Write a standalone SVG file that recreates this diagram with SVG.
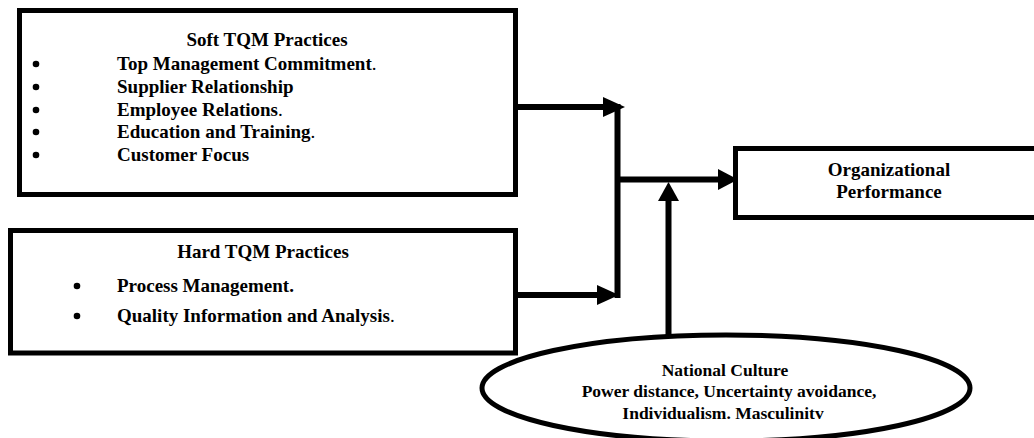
<svg xmlns="http://www.w3.org/2000/svg" width="1034" height="438" viewBox="0 0 1034 438">
<style>
.box{fill:#fff;stroke:#000;stroke-width:5}
.t{font-family:"Liberation Serif","Times New Roman",serif;font-weight:bold;font-size:19px;fill:#000}
.s{font-size:17.5px}
.n{font-weight:normal}
.ln{stroke:#000;stroke-width:6;fill:none}
.ah{fill:#000}
</style>
<rect width="1034" height="438" fill="#fff"/>
<g id="soft">
<rect class="box" x="19.5" y="10.5" width="496" height="184"/>
<text class="t" x="267" y="46" text-anchor="middle">Soft TQM Practices</text>
<circle cx="36" cy="64" r="3.3"/>
<circle cx="36" cy="87" r="3.3"/>
<circle cx="36" cy="110" r="3.3"/>
<circle cx="36" cy="132" r="3.3"/>
<circle cx="36" cy="155" r="3.3"/>
<text class="t" x="117" y="70">Top Management Commitment<tspan class="n">.</tspan></text>
<text class="t" x="117" y="93">Supplier Relationship</text>
<text class="t" x="117" y="116">Employee Relations<tspan class="n">.</tspan></text>
<text class="t" x="117" y="138">Education and Training<tspan class="n">.</tspan></text>
<text class="t" x="117" y="161">Customer Focus</text>
</g>
<g id="hard">
<rect class="box" x="10.5" y="230.5" width="505" height="122.5"/>
<text class="t" x="263" y="258" text-anchor="middle">Hard TQM Practices</text>
<circle cx="77" cy="286" r="3.3"/>
<circle cx="77" cy="316" r="3.3"/>
<text class="t" x="117" y="292">Process Management.</text>
<text class="t" x="117" y="322">Quality Information and Analysis<tspan class="n">.</tspan></text>
</g>
<g id="performance">
<rect class="box" x="735.5" y="148.5" width="310" height="69"/>
<text class="t" x="889" y="176" text-anchor="middle">Organizational</text>
<text class="t" x="889" y="198" text-anchor="middle">Performance</text>
</g>
<g id="culture">
<ellipse class="box" cx="726" cy="388" rx="244" ry="53"/>
<text class="t s" x="725" y="376" text-anchor="middle">National Culture</text>
<text class="t s" x="729" y="397" text-anchor="middle">Power distance, Uncertainty avoidance,</text>
<text class="t s" x="723" y="419" text-anchor="middle">Individualism. Masculinitv</text>
</g>
<g id="connectors">
<path class="ln" d="M518 107H606"/>
<polygon class="ah" points="603,97 625,107 603,117"/>
<path class="ln" d="M617.5 104V298"/>
<path class="ln" d="M518 295H600"/>
<polygon class="ah" points="597,285 619,295 597,305"/>
<path class="ln" d="M617 179.5H721"/>
<polygon class="ah" points="718,169 738,179.5 718,190"/>
<path class="ln" d="M668.5 336V198"/>
<polygon class="ah" points="658,201 668.5,182 679,201"/>
</g>
</svg>
